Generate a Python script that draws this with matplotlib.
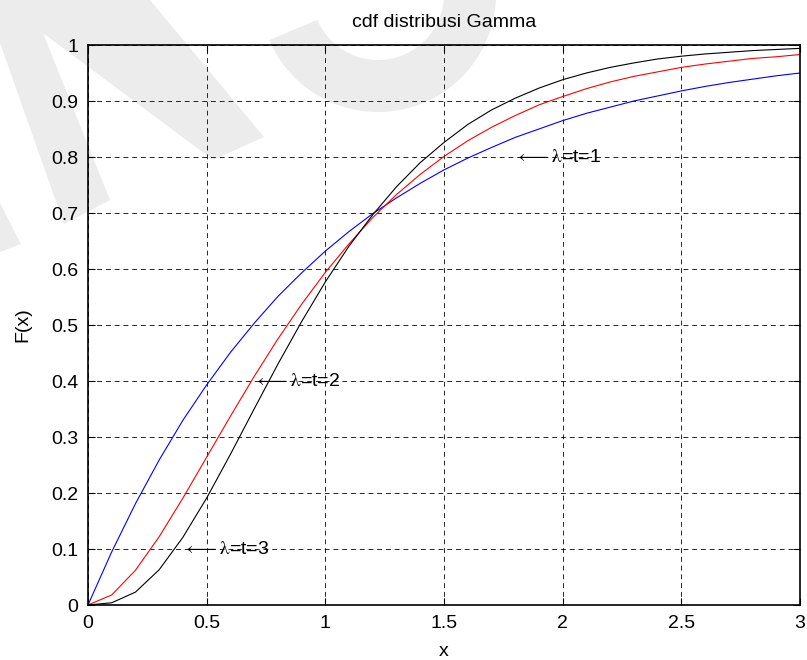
import matplotlib.pyplot as plt
import numpy as np
from matplotlib.patches import Polygon
from matplotlib.ticker import FuncFormatter

plt.rcParams["font.family"] = ["Liberation Sans", "DejaVu Sans"]
plt.rcParams["mathtext.fontset"] = "stix"

# x grid and cdf values
x = [0.0, 0.1, 0.2, 0.3, 0.4, 0.5, 0.6, 0.7, 0.8, 0.9, 1.0,
     1.1, 1.2, 1.3, 1.4, 1.5, 1.6, 1.7, 1.8, 1.9, 2.0,
     2.1, 2.2, 2.3, 2.4, 2.5, 2.6, 2.7, 2.8, 2.9, 3.0]
cdf_t1 = [0.000, 0.095, 0.181, 0.259, 0.330, 0.393, 0.451, 0.503, 0.551, 0.593, 0.632,
          0.667, 0.699, 0.727, 0.753, 0.777, 0.798, 0.817, 0.835, 0.850, 0.865,
          0.878, 0.889, 0.900, 0.909, 0.918, 0.926, 0.933, 0.939, 0.945, 0.950]
cdf_t2 = [0.000, 0.018, 0.062, 0.122, 0.191, 0.264, 0.337, 0.408, 0.475, 0.537, 0.594,
          0.645, 0.692, 0.733, 0.769, 0.801, 0.829, 0.853, 0.874, 0.893, 0.908,
          0.922, 0.934, 0.944, 0.952, 0.960, 0.966, 0.971, 0.976, 0.979, 0.983]
cdf_t3 = [0.000, 0.004, 0.023, 0.063, 0.121, 0.191, 0.269, 0.350, 0.430, 0.506, 0.577,
          0.641, 0.697, 0.747, 0.790, 0.826, 0.858, 0.884, 0.905, 0.923, 0.938,
          0.950, 0.960, 0.968, 0.975, 0.980, 0.984, 0.987, 0.990, 0.992, 0.994]

series = [(cdf_t1, "#0000ff"), (cdf_t2, "#ff0000"), (cdf_t3, "#000000")]
notes = [(1.8, 0.8, "1"), (0.7, 0.4, "2"), (0.4, 0.1, "3")]

xticks = [0, 0.5, 1, 1.5, 2, 2.5, 3]
yticks = [0, 0.1, 0.2, 0.3, 0.4, 0.5, 0.6, 0.7, 0.8, 0.9, 1]

W, H = 807, 660
fig = plt.figure(figsize=(W / 100, H / 100), dpi=100)

# faint watermark behind the plot, drawn in pixel space (y grows downward)
bg = fig.add_axes([0, 0, 1, 1], zorder=0)
bg.set_xlim(0, W)
bg.set_ylim(H, 0)
bg.axis("off")
wm = "#ececec"
bg.add_patch(Polygon([(0, 43), (0, 0), (150, 0), (264, 137), (213, 160),
                      (43, 33), (110, 200), (64, 224)], closed=True, fc=wm, ec="none"))
bg.add_patch(Polygon([(0, 203), (21, 244), (0, 252)], closed=True, fc=wm, ec="none"))
ang = np.radians(np.linspace(-10, 157, 80))
cx, cy = 378, -6
outer = np.column_stack([cx + 118 * np.cos(ang), cy + 118 * np.sin(ang)])
inner = np.column_stack([cx + 66 * np.cos(ang), cy + 66 * np.sin(ang)])[::-1]
bg.add_patch(Polygon(np.vstack([outer, inner]), closed=True, fc=wm, ec="none"))

ax = fig.add_axes([88 / W, 55 / H, 712 / W, 560 / H], zorder=1)
ax.set_facecolor("none")

for values, color in series:
    ax.plot(x, values, color=color, linewidth=0.8)

for tx, ty, t in notes:
    ax.text(tx, ty, r"$\longleftarrow\mathrm{\lambda}$" + "=t=" + t,
            fontsize=14, va="center", ha="left")

ax.set_xlim(0, 3)
ax.set_ylim(0, 1)
ax.set_xticks(xticks)
ax.set_yticks(yticks)
ax.xaxis.set_major_formatter(FuncFormatter(lambda v, _: f"{v:g}"))
ax.yaxis.set_major_formatter(FuncFormatter(lambda v, _: f"{v:g}"))
ax.tick_params(direction="in", length=5, width=0.8, top=True, right=True,
               labelsize=14, pad=7, colors="k")
ax.grid(True, color="k", linestyle=(0, (5, 4)), linewidth=0.7, alpha=0.85)
for sp in ax.spines.values():
    sp.set_linewidth(1.2)

ax.set_title("cdf distribusi Gamma", fontsize=14, pad=13)
ax.set_xlabel("x", fontsize=14, labelpad=8)
ax.set_ylabel("F(x)", fontsize=14, labelpad=14)

fig.savefig("out.png", dpi=100)
